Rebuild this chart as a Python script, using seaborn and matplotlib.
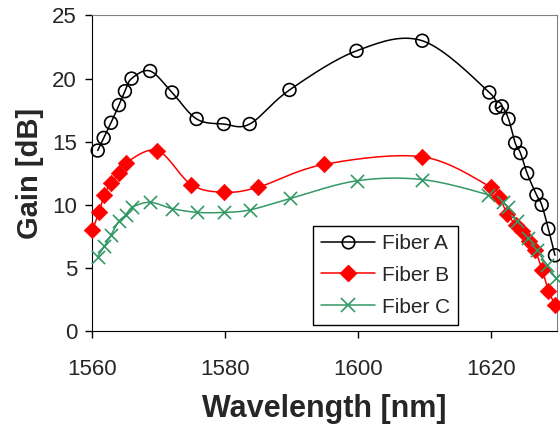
import numpy as np
import pandas as pd
import seaborn as sns
from matplotlib import pyplot as plt
from matplotlib.lines import Line2D

# wavelength [nm] / gain [dB]
wl_a = [1560.8, 1561.7, 1562.8, 1564.0, 1564.9, 1565.9, 1568.7, 1572.0, 1575.7, 1579.8,
        1583.7, 1589.7, 1599.8, 1609.7, 1619.8, 1620.8, 1621.7, 1622.7, 1623.7, 1624.5,
        1625.5, 1626.9, 1627.7, 1628.7, 1629.7]
gain_a = [14.3, 15.3, 16.5, 17.9, 19.0, 20.0, 20.6, 18.9, 16.8, 16.4,
          16.4, 19.1, 22.2, 23.0, 18.9, 17.7, 17.8, 16.8, 14.9, 14.1,
          12.5, 10.8, 10.0, 8.1, 6.0]

wl_b = [1560.0, 1561.0, 1561.8, 1562.8, 1564.0, 1565.0, 1569.8, 1574.9, 1579.9, 1585.0,
        1594.9, 1609.7, 1620.0, 1621.3, 1622.5, 1623.8, 1624.8, 1625.8, 1626.7, 1627.8,
        1628.7, 1629.7]
gain_b = [8.0, 9.4, 10.8, 11.7, 12.5, 13.3, 14.3, 11.6, 11.0, 11.4,
          13.2, 13.8, 11.4, 10.6, 9.3, 8.4, 7.9, 7.1, 6.4, 4.8,
          3.2, 2.1]

wl_c = [1560.8, 1561.8, 1562.8, 1564.0, 1565.1, 1566.0, 1568.7, 1572.0, 1575.8, 1579.9,
        1583.8, 1589.8, 1599.8, 1609.7, 1619.6, 1621.8, 1622.6, 1624.0, 1625.7, 1627.0,
        1628.5, 1629.8]
gain_c = [5.9, 6.7, 7.6, 8.7, 9.2, 9.8, 10.2, 9.7, 9.4, 9.4,
          9.6, 10.5, 11.9, 12.0, 10.8, 10.2, 9.8, 8.7, 7.4, 6.4,
          5.2, 4.2]

names = ["Fiber A", "Fiber B", "Fiber C"]
colors = ["black", "#FF0000", "#339966"]


def smooth(x, y, n=20):
    # Excel-like smoothed line (bezier through the points, catmull-rom tangents)
    p = np.column_stack([x, y]).astype(float)
    p = np.vstack([p[0], p, p[-1]])
    out = []
    t = np.linspace(0, 1, n)[:, None]
    for i in range(1, len(p) - 2):
        p0, p1, p2, p3 = p[i - 1], p[i], p[i + 1], p[i + 2]
        c1 = p1 + (p2 - p0) / 6
        c2 = p2 - (p3 - p1) / 6
        seg = ((1 - t) ** 3) * p1 + 3 * ((1 - t) ** 2) * t * c1 + 3 * (1 - t) * t ** 2 * c2 + t ** 3 * p2
        out.append(seg if i == 1 else seg[1:])
    return np.vstack(out)


pts = pd.concat([
    pd.DataFrame({"wl": wl_a, "gain": gain_a, "fiber": "Fiber A"}),
    pd.DataFrame({"wl": wl_b, "gain": gain_b, "fiber": "Fiber B"}),
    pd.DataFrame({"wl": wl_c, "gain": gain_c, "fiber": "Fiber C"}),
])
curves = []
for name, x, y in zip(names, [wl_a, wl_b, wl_c], [gain_a, gain_b, gain_c]):
    s = smooth(x, y)
    curves.append(pd.DataFrame({"wl": s[:, 0], "gain": s[:, 1], "fiber": name}))
curves = pd.concat(curves)

sns.set_style("ticks")
plt.rcParams["font.family"] = ["Liberation Sans", "DejaVu Sans"]

fig = plt.figure(figsize=(5.6, 4.28), dpi=100)
ax = fig.add_axes([0.165, 0.2266, 0.8296, 0.7372])

palette = dict(zip(names, colors))
for name in names:
    d = curves[curves.fiber == name]
    sns.lineplot(data=d, x="wl", y="gain", sort=False, estimator=None,
                 color=palette[name], lw=1.1, ax=ax, clip_on=False)

styles = {"Fiber A": dict(marker="o", s=85, facecolor="none", edgecolor="black", linewidth=1.2),
          "Fiber B": dict(marker="D", s=70, color="#FF0000", edgecolor="#FF0000", linewidth=0.5),
          "Fiber C": dict(marker="x", s=90, color="#339966", linewidth=1.2)}
for name in names:
    d = pts[pts.fiber == name]
    sns.scatterplot(data=d, x="wl", y="gain", ax=ax, clip_on=False, zorder=3, **styles[name])

ax.set_xlim(1560, 1630)
ax.set_ylim(0, 25)
ax.set_xticks([1560, 1580, 1600, 1620])
ax.set_yticks([0, 5, 10, 15, 20, 25])
ax.tick_params(labelsize=16, length=5, width=1, direction="out", color="black")
ax.tick_params(axis="x", pad=15)
ax.tick_params(axis="y", pad=6)
for side in ["top", "right"]:
    ax.spines[side].set_visible(True)
    ax.spines[side].set_color("#808080")
for side in ["left", "bottom"]:
    ax.spines[side].set_color("black")
ax.set_xlabel("Wavelength [nm]", fontsize=22, fontweight="bold", labelpad=10)
ax.set_ylabel("Gain [dB]", fontsize=21, fontweight="bold", labelpad=6)

handles = [
    Line2D([], [], color="black", lw=1.1, marker="o", markersize=9, markerfacecolor="none", markeredgewidth=1.2),
    Line2D([], [], color="#FF0000", lw=1.1, marker="D", markersize=8),
    Line2D([], [], color="#339966", lw=1.1, marker="x", markersize=9.5, markeredgewidth=1.2),
]
leg = ax.legend(handles, names, loc="lower right", bbox_to_anchor=(0.787, 0.019), borderaxespad=0,
                fontsize=15, handlelength=2.6, labelspacing=0.62, fancybox=False, framealpha=1,
                edgecolor="black", borderpad=0.4, handletextpad=0.3)
leg.get_frame().set_linewidth(1.0)

fig.savefig("out.png", dpi=100)
